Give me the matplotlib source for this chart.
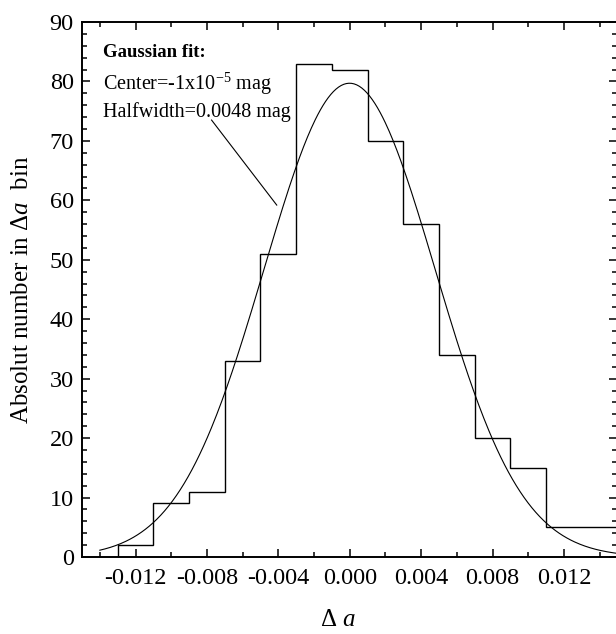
import numpy as np
import matplotlib
matplotlib.use('Agg')
import matplotlib.pyplot as plt
from matplotlib.ticker import MultipleLocator, FormatStrFormatter

plt.rcParams['font.family'] = 'Liberation Serif'
plt.rcParams['mathtext.fontset'] = 'custom'
plt.rcParams['mathtext.rm'] = 'Liberation Serif'
plt.rcParams['mathtext.it'] = 'Liberation Serif:italic'

# ── data ─────────────────────────────────────────────────────────────────────
bin_edges = [-0.013, -0.011, -0.009, -0.007, -0.005, -0.003, -0.001,
             0.001, 0.003, 0.005, 0.007, 0.009, 0.011, 0.013, 0.015]
counts = [2, 9, 11, 33, 51, 83, 82, 70, 56, 34, 20, 15, 5, 5]

# gaussian fit parameters
fit_center = -1e-5
fit_halfwidth = 0.0048
fit_amplitude = 79.7
fit_range = (-0.014, 0.015)

# pointer from the fit text to the curve
pointer_start = (-0.00774, 73.5)
pointer_end = (-0.00409, 59.2)
# ─────────────────────────────────────────────────────────────────────────────

fig = plt.figure(figsize=(6.16, 6.34), dpi=100)
ax = fig.add_axes([0.1331, 0.1215, 0.8693, 0.8438])

ax.stairs(counts, bin_edges, color='black', linewidth=1.0, zorder=3)

xs = np.linspace(fit_range[0], fit_range[1], 400)
ys = fit_amplitude * np.exp(-(xs - fit_center) ** 2 / (2 * fit_halfwidth ** 2))
ax.plot(xs, ys, color='black', linewidth=0.8, zorder=2)

ax.plot([pointer_start[0], pointer_end[0]], [pointer_start[1], pointer_end[1]],
        color='black', linewidth=0.8)

ax.text(0.0386, 0.9346, 'Gaussian fit:', transform=ax.transAxes,
        fontsize=13.5, fontweight='bold', va='baseline')
ax.text(0.0386, 0.873, r'Center=-1x10$^{-5}$ mag', transform=ax.transAxes,
        fontsize=14.5, va='baseline')
ax.text(0.0386, 0.822, 'Halfwidth=0.0048 mag', transform=ax.transAxes,
        fontsize=14.5, va='baseline')

ax.set_xlim(-0.015, 0.015)
ax.set_ylim(0, 90)
ax.xaxis.set_major_locator(MultipleLocator(0.004))
ax.xaxis.set_minor_locator(MultipleLocator(0.002))
ax.xaxis.set_major_formatter(FormatStrFormatter('%.3f'))
ax.yaxis.set_major_locator(MultipleLocator(10))
ax.yaxis.set_minor_locator(MultipleLocator(2))

ax.tick_params(which='both', direction='in', top=True, right=True,
               labelsize=17.5, width=1.1)
ax.tick_params(which='major', length=5.8)
ax.tick_params(which='minor', length=3.6)
ax.tick_params(axis='x', pad=8)
ax.tick_params(axis='y', pad=6)

for spine in ax.spines.values():
    spine.set_linewidth(1.4)

ax.set_xlabel(r'$\Delta$ $a$', fontsize=18, labelpad=14)
ax.xaxis.label.set_x(0.478)
ax.set_ylabel(r'Absolut number in $\mathit{\Delta a}$  bin', fontsize=18, labelpad=12)

fig.savefig('out.png', dpi=100)
